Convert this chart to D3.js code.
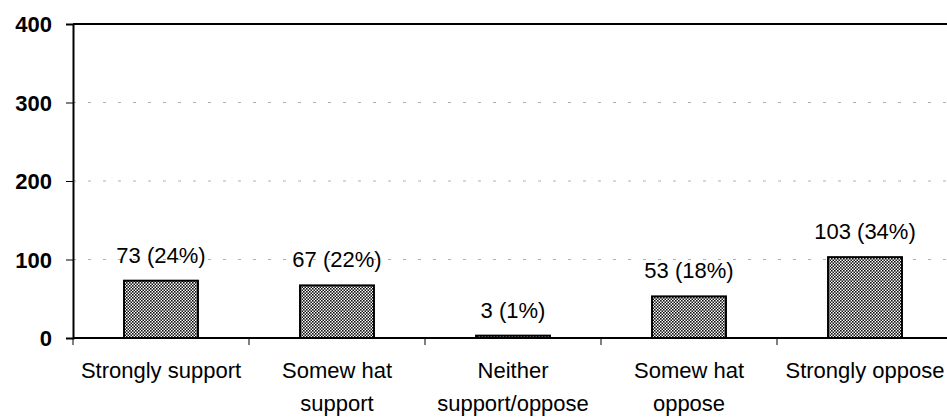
<!DOCTYPE html>
<html>
<head>
<meta charset="utf-8">
<script src="https://cdn.jsdelivr.net/npm/d3@7"></script>
<style>
  body { margin: 0; background: #fff; }
  svg text { font-family: "Liberation Sans", Arial, sans-serif; fill: #000; }
</style>
</head>
<body>
<div id="chart"></div>
<script>
// Chart data
var categories = [
    ["Strongly support"],
    ["Somew hat", "support"],
    ["Neither", "support/oppose"],
    ["Somew hat", "oppose"],
    ["Strongly oppose"]
];
var counts = [73, 67, 3, 53, 103];
var percents = ["24%", "22%", "1%", "18%", "34%"];
var yTicks = [0, 100, 200, 300, 400];

var svgWidth = 947;
var svgHeight = 419;

var margin = { top: 24, left: 73, bottom: 81 };
var plotHeight = svgHeight - margin.top - margin.bottom;
var plotRight = 953;

var svg = d3.select("#chart")
    .append("svg")
    .attr("width", svgWidth)
    .attr("height", svgHeight);

// dotted fill like the scanned bars
var defs = svg.append("defs");
var pat = defs.append("pattern")
    .attr("id", "dots")
    .attr("width", 3)
    .attr("height", 3)
    .attr("patternUnits", "userSpaceOnUse");
pat.append("rect").attr("width", 3).attr("height", 3).attr("fill", "#fff");
pat.append("rect").attr("x", 0).attr("y", 0).attr("width", 1.6).attr("height", 1.6).attr("fill", "#111");
pat.append("rect").attr("x", 1.5).attr("y", 1.5).attr("width", 1.6).attr("height", 1.6).attr("fill", "#111");

var xScale = d3.scaleBand()
    .domain(d3.range(categories.length))
    .range([margin.left, plotRight])
    .paddingInner(0)
    .paddingOuter(0);

var yScale = d3.scaleLinear()
    .domain([0, 400])
    .range([margin.top + plotHeight, margin.top]);

// faint gridlines
svg.append("g").selectAll("line")
    .data(yTicks.filter(d => d > 0 && d < 400))
    .enter()
    .append("line")
    .attr("x1", margin.left)
    .attr("x2", svgWidth)
    .attr("y1", d => yScale(d))
    .attr("y2", d => yScale(d))
    .attr("stroke", "#b0b0b0")
    .attr("stroke-width", 1)
    .attr("stroke-dasharray", "3,12");

// top border
svg.append("line")
    .attr("x1", margin.left)
    .attr("x2", svgWidth)
    .attr("y1", yScale(400))
    .attr("y2", yScale(400))
    .attr("stroke", "#000")
    .attr("stroke-width", 2);

// y axis
var yAxis = d3.axisLeft(yScale).tickValues(yTicks).tickSize(7).tickPadding(14);
var yG = svg.append("g")
    .attr("transform", `translate(${margin.left},0)`)
    .call(yAxis);
yG.select(".domain").attr("stroke-width", 2);
yG.selectAll("text")
    .attr("font-size", "22px")
    .attr("font-weight", "bold")
    .style("font-family", "Liberation Sans, Arial, sans-serif")
    .attr("dy", "0.36em");

// bars
var barW = xScale.bandwidth() * 0.42;
svg.append("g").selectAll("rect")
    .data(counts)
    .enter()
    .append("rect")
    .attr("x", (d, i) => xScale(i) + (xScale.bandwidth() - barW) / 2)
    .attr("y", d => yScale(d))
    .attr("width", barW)
    .attr("height", d => yScale(0) - yScale(d))
    .attr("fill", "url(#dots)")
    .attr("stroke", "#000")
    .attr("stroke-width", 2);

// value labels
svg.append("g").selectAll("text")
    .data(counts)
    .enter()
    .append("text")
    .attr("x", (d, i) => xScale(i) + xScale.bandwidth() / 2)
    .attr("y", d => yScale(d) - 18)
    .attr("text-anchor", "middle")
    .attr("font-size", "22px")
    .text((d, i) => d + " (" + percents[i] + ")");

// x axis line and ticks
svg.append("line")
    .attr("x1", margin.left)
    .attr("x2", svgWidth)
    .attr("y1", yScale(0))
    .attr("y2", yScale(0))
    .attr("stroke", "#000")
    .attr("stroke-width", 2);

svg.append("g").selectAll("line")
    .data(d3.range(categories.length))
    .enter()
    .append("line")
    .attr("x1", d => xScale(d))
    .attr("x2", d => xScale(d))
    .attr("y1", yScale(0))
    .attr("y2", yScale(0) + 7)
    .attr("stroke", "#000")
    .attr("stroke-width", 1);

// category labels
var catText = svg.append("g").selectAll("text")
    .data(categories)
    .enter()
    .append("text")
    .attr("x", (d, i) => xScale(i) + xScale.bandwidth() / 2)
    .attr("y", yScale(0) + 40)
    .attr("text-anchor", "middle")
    .attr("font-size", "22px");

catText.selectAll("tspan")
    .data(d => d)
    .enter()
    .append("tspan")
    .attr("x", function() { return d3.select(this.parentNode).attr("x"); })
    .attr("dy", (d, j) => j === 0 ? 0 : 33)
    .text(d => d);
</script>
</body>
</html>
